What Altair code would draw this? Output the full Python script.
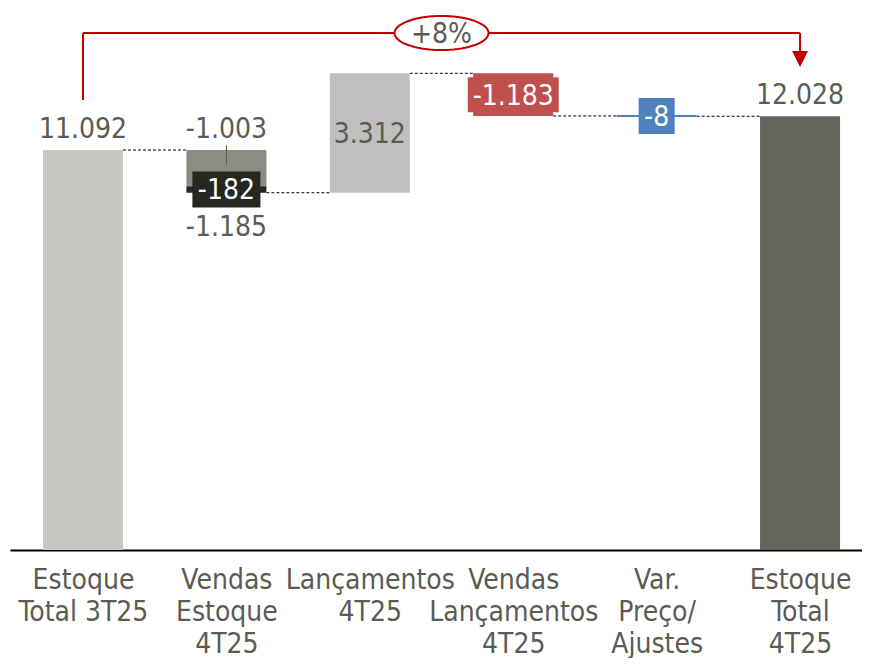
import altair as alt
import pandas as pd
import numpy as np

# ---- data ----
categories = ["Estoque|Total 3T25", "Vendas|Estoque|4T25", "Lançamentos|4T25",
              "Vendas|Lançamentos|4T25", "Var.|Preço/|Ajustes", "Estoque|Total|4T25"]
start_total = 11092
vendas_estoque_parts = [-1003, -182]
vendas_estoque_total = -1185
lancamentos = 3312
vendas_lancamentos = -1183
var_preco = -8
end_total = 12028
growth_label = "+8%"

FONT = "DejaVu Sans Condensed"
GRAY_TXT = "#5b5b53"
RED = "#c00000"

def fmt(v):
    s = f"{abs(v):,}".replace(",", ".")
    return ("-" if v < 0 else "") + s

# running levels
l0 = start_total
l1 = l0 + vendas_estoque_parts[0]
l2 = l1 + vendas_estoque_parts[1]
l3 = l2 + lancamentos
l4 = l3 + vendas_lancamentos
l5 = l4 + var_preco

seg = pd.DataFrame({
    "idx": [0, 1, 1, 2, 3, 4, 5],
    "y0": [0, l0, l1, l2, l3, l4, 0],
    "y1": [l0, l1, l2, l3, l4, l5, end_total],
    "col": ["#c7c7c2", "#8d8c84", "#262622", "#bfbfbf", "#c0504d", "#4f81bd", "#64645c"],
})

conn = pd.DataFrame({
    "idx": [0, 1, 2, 3, 4],
    "nxt": [1, 2, 3, 4, 5],
    "lvl": [l0, l2, l3, l4, l5],
})

xscale = alt.Scale(domain=[-0.509, 5.432], nice=False, zero=False, padding=0)
yscale = alt.Scale(domain=[0, 15030], nice=False, zero=False, padding=0)
label_expr = "split([" + ",".join(f"'{c}'" for c in categories) + "][datum.value], '|')"
xaxis = alt.Axis(values=[0, 1, 2, 3, 4, 5], labelExpr=label_expr, ticks=False, grid=False,
                 domainColor="black", domainWidth=2, labelFont=FONT, labelFontSize=28,
                 labelColor=GRAY_TXT, labelPadding=16, labelLineHeight=32, title=None,
                 labelFlush=False, labelOverlap=False, labelBound=False)

def X(f):
    return alt.X(f"{f}:Q", scale=xscale, axis=xaxis)

def Y(f):
    return alt.Y(f"{f}:Q", scale=yscale, axis=None)

connectors = alt.Chart(conn).mark_rule(color="black", strokeWidth=1, strokeDash=[3, 2],
                                       xOffset=40, x2Offset=-40).encode(
    x=X("idx"), x2="nxt:Q", y=Y("lvl"))

bars = alt.Chart(seg).mark_bar(width=80).encode(
    x=X("idx"), y=Y("y0"), y2="y1:Q", color=alt.Color("col:N", scale=None))

blue_line = alt.Chart(pd.DataFrame({"idx": [4], "v": [(l4 + l5) / 2]})).mark_rule(
    color="#4f81bd", strokeWidth=2, xOffset=-40, x2Offset=40).encode(
    x=X("idx"), x2="idx:Q", y=Y("v"))

leader = alt.Chart(pd.DataFrame({"idx": [1], "a": [l0], "b": [(l0 + l1) / 2]})).mark_rule(
    color=GRAY_TXT, strokeWidth=1, yOffset=-5, y2Offset=-3).encode(
    x=X("idx"), y=Y("a"), y2="b:Q")

def box(i, center, w, h, color):
    return alt.Chart(pd.DataFrame({"idx": [i], "c": [center]})).mark_bar(
        width=w, yOffset=-h / 2, y2Offset=h / 2, color=color).encode(
        x=X("idx"), y=Y("c"), y2="c:Q")

box_black = box(1, (l1 + l2) / 2, 68, 36, "#262622")
box_red = box(3, (l3 + l4) / 2, 91, 35, "#c0504d")
box_blue = box(4, (l4 + l5) / 2, 36, 36, "#4f81bd")

def text_layer(idx, vals, texts, dy, color=GRAY_TXT):
    df = pd.DataFrame({"idx": idx, "v": vals, "t": texts})
    return alt.Chart(df).mark_text(font=FONT, fontSize=28, color=color,
                                   baseline="alphabetic", dy=dy).encode(
        x=X("idx"), y=Y("v"), text="t:N")

above = text_layer([0, 1, 5], [l0, l0, end_total],
                   [fmt(start_total), fmt(vendas_estoque_parts[0]), fmt(end_total)], -12)
below = text_layer([1], [l2], [fmt(vendas_estoque_total)], 43)
inside = text_layer([2], [(l2 + l3) / 2], [fmt(lancamentos)], 10)
wtext = text_layer([1, 3, 4], [(l1 + l2) / 2, (l3 + l4) / 2, (l4 + l5) / 2],
                   [fmt(vendas_estoque_parts[1]), fmt(vendas_lancamentos), fmt(var_preco)],
                   10, color="white")

# growth bracket
bracket_level = 14336
bracket_start = 12478
arrow_top = 13809
arrow_center = 13615
br = pd.DataFrame({"x0": [0, 0, 5], "x1": [0, 5, 5],
                   "y0": [bracket_start, bracket_level, bracket_level],
                   "y1": [bracket_level, bracket_level, arrow_top]})
bracket = alt.Chart(br).mark_rule(color=RED, strokeWidth=2).encode(
    x=X("x0"), x2="x1:Q", y=Y("y0"), y2="y1:Q")

arrow = alt.Chart(pd.DataFrame({"idx": [5], "v": [arrow_center]})).mark_point(
    shape="M-1,-1L1,-1L0,1Z", size=256, filled=True, color=RED, opacity=1).encode(
    x=X("idx"), y=Y("v"))

t = np.linspace(0, 2 * np.pi, 73)
ell_path = "M" + "L".join(f"{np.cos(a):.4f},{0.362 * np.sin(a):.4f}" for a in t[:-1]) + "Z"
ellipse = alt.Chart(pd.DataFrame({"idx": [2.5], "v": [bracket_level]})).mark_point(
    shape=ell_path, size=94 * 94, filled=False, fill="white", fillOpacity=1,
    stroke=RED, strokeWidth=2, opacity=1).encode(x=X("idx"), y=Y("v"))
growth = text_layer([2.5], [bracket_level], [growth_label], 10)

chart = alt.layer(connectors, bars, blue_line, leader, box_black, box_red, box_blue,
                  above, below, inside, wtext, bracket, arrow, ellipse, growth).properties(
    width=852, height=542,
    autosize=alt.AutoSizeParams(type="none"),
    padding={"left": 2, "top": 0, "right": 0, "bottom": 108},
    background="white",
).configure_view(stroke=None)

chart.save("out.html", embed_options={"renderer": "svg", "actions": False})
